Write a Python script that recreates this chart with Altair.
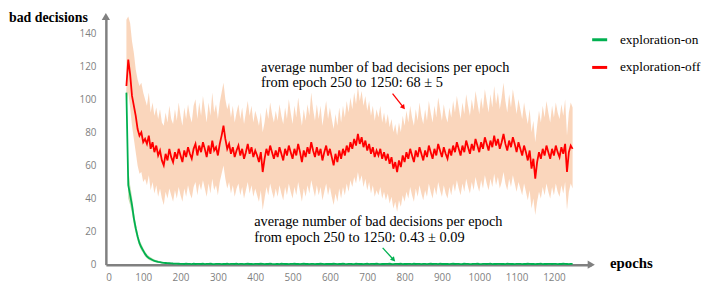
import altair as alt
import pandas as pd

# ---------------- data ----------------
epochs = list(range(55, 1251, 5))

off_mean = [
    108, 124, 115, 102, 96, 90, 82, 78, 80, 74,
    76, 73, 78, 70, 74, 68, 72, 66, 69, 63,
    60, 67, 63, 70, 65, 62, 68, 64, 70, 66,
    62, 69, 65, 71, 67, 64, 70, 73, 66, 72,
    68, 74, 70, 65, 72, 67, 75, 69, 71, 66,
    73, 78, 84, 76, 70, 73, 67, 71, 65, 69,
    72, 66, 70, 64, 68, 73, 67, 71, 65, 69,
    66, 62, 68, 56, 64, 70, 66, 72, 68, 64,
    69, 65, 71, 67, 63, 70, 66, 72, 68, 64,
    70, 66, 73, 68, 62, 69, 65, 71, 67, 74,
    69, 65, 71, 66, 70, 63, 68, 72, 66, 70,
    65, 60, 67, 62, 69, 64, 70, 66, 72, 68,
    74, 70, 76, 72, 79, 73, 77, 71, 75, 69,
    73, 67, 71, 65, 69, 66, 70, 64, 68, 63,
    67, 61, 65, 58, 62, 56, 63, 59, 66, 62,
    68, 64, 70, 66, 62, 69, 65, 71, 67, 63,
    69, 65, 72, 68, 64, 70, 66, 73, 69, 65,
    71, 67, 64, 70, 66, 72, 68, 74, 70, 66,
    72, 68, 75, 71, 67, 73, 69, 76, 72, 68,
    74, 70, 77, 73, 69, 75, 71, 78, 72, 76,
    70, 74, 79, 73, 69, 75, 71, 77, 73, 68,
    74, 70, 66, 72, 68, 63, 69, 58, 64, 52,
    62, 68, 64, 70, 66, 72, 68, 64, 70, 66,
    72, 68, 65, 71, 67, 73, 56, 68, 72, 70,
]

off_hi = [
    148, 150, 146, 135, 128, 118, 112, 108, 110, 104,
    100, 96, 104, 92, 98, 90, 95, 88, 94, 86,
    84, 92, 86, 96, 88, 85, 94, 87, 98, 90,
    84, 95, 88, 97, 90, 86, 96, 100, 88, 98,
    90, 102, 94, 86, 98, 90, 104, 92, 97, 88,
    98, 104, 110, 100, 94, 98, 89, 96, 86, 92,
    97, 88, 95, 85, 92, 99, 90, 96, 86, 93,
    89, 84, 92, 80, 86, 95, 88, 98, 91, 86,
    93, 87, 97, 90, 85, 95, 88, 100, 92, 85,
    96, 89, 101, 92, 84, 94, 87, 97, 90, 104,
    94, 87, 97, 88, 96, 84, 92, 99, 88, 95,
    88, 82, 91, 84, 95, 86, 96, 89, 99, 92,
    101, 94, 104, 97, 108, 99, 105, 96, 102, 93,
    99, 90, 96, 87, 94, 89, 96, 86, 92, 85,
    91, 83, 88, 80, 85, 78, 86, 80, 90, 84,
    93, 86, 96, 89, 84, 94, 87, 98, 90, 85,
    94, 87, 99, 92, 86, 96, 89, 101, 94, 87,
    97, 90, 86, 95, 89, 99, 92, 102, 95, 88,
    98, 91, 103, 96, 90, 100, 93, 105, 98, 91,
    101, 94, 106, 99, 92, 103, 95, 108, 97, 104,
    94, 101, 110, 99, 92, 103, 95, 106, 99, 91,
    100, 94, 88, 98, 91, 85, 94, 80, 87, 74,
    84, 93, 86, 96, 89, 99, 92, 86, 96, 89,
    98, 92, 88, 97, 90, 100, 78, 92, 98, 95,
]

off_lo = [
    96, 104, 95, 84, 76, 68, 60, 55, 56, 50,
    52, 48, 54, 45, 50, 43, 48, 41, 46, 40,
    36, 44, 40, 46, 42, 38, 45, 40, 47, 42,
    38, 46, 41, 48, 43, 40, 47, 50, 42, 49,
    45, 51, 46, 41, 49, 43, 52, 45, 48, 42,
    50, 55, 60, 52, 46, 50, 43, 48, 41, 46,
    49, 42, 47, 40, 45, 50, 43, 48, 41, 46,
    42, 38, 45, 33, 40, 47, 42, 49, 44, 40,
    46, 41, 48, 43, 39, 47, 42, 49, 44, 40,
    47, 42, 50, 44, 38, 46, 41, 48, 43, 51,
    46, 41, 48, 42, 47, 39, 44, 49, 42, 47,
    41, 36, 43, 38, 46, 40, 47, 42, 49, 44,
    51, 47, 53, 49, 56, 50, 54, 47, 52, 45,
    50, 43, 48, 41, 45, 42, 47, 40, 44, 39,
    43, 37, 41, 34, 38, 32, 39, 35, 42, 38,
    44, 40, 47, 42, 38, 46, 41, 48, 43, 39,
    45, 41, 49, 44, 40, 47, 42, 50, 45, 41,
    48, 43, 40, 47, 42, 49, 44, 51, 46, 42,
    49, 44, 52, 47, 43, 50, 45, 53, 48, 44,
    51, 46, 54, 49, 45, 52, 47, 55, 48, 53,
    46, 50, 56, 49, 45, 52, 47, 54, 49, 44,
    50, 46, 42, 49, 44, 39, 45, 34, 40, 30,
    38, 44, 40, 47, 42, 49, 44, 40, 47, 42,
    49, 44, 41, 48, 43, 50, 33, 44, 49, 46,
]

on_mean = [
    104, 48, 42, 36, 28, 22, 17, 13, 10.5, 8.5,
    6.5, 5, 4, 3.4, 2.8, 2.3, 2, 1.7, 1.5, 1.3,
    1.1, 1.0, 0.9, 0.85, 0.8, 0.7, 0.65, 0.6, 0.55, 0.5,
    0.5, 0.4, 0.6, 0.45, 0.5, 0.35, 0.55, 0.4, 0.5, 0.45,
    0.4, 0.55, 0.35, 0.5, 0.45, 0.6, 0.4, 0.35, 0.5, 0.45,
    0.45, 0.3, 0.5, 0.4, 0.55, 0.35, 0.45, 0.5, 0.4, 0.6,
    0.35, 0.45, 0.5, 0.3, 0.45, 0.55, 0.4, 0.5, 0.35, 0.45,
    0.5, 0.4, 0.55, 0.45, 0.35, 0.5, 0.4, 0.6, 0.45, 0.35,
    0.4, 0.5, 0.35, 0.55, 0.45, 0.4, 0.5, 0.3, 0.45, 0.5,
    0.55, 0.4, 0.45, 0.35, 0.5, 0.6, 0.4, 0.45, 0.35, 0.5,
    0.45, 0.35, 0.5, 0.4, 0.55, 0.45, 0.3, 0.5, 0.4, 0.45,
    0.4, 0.55, 0.45, 0.35, 0.5, 0.4, 0.6, 0.45, 0.35, 0.5,
    0.5, 0.4, 0.35, 0.55, 0.45, 0.4, 0.5, 0.35, 0.45, 0.55,
    0.35, 0.45, 0.5, 0.4, 0.6, 0.45, 0.35, 0.5, 0.4, 0.45,
    0.45, 0.55, 0.4, 0.35, 0.5, 0.45, 0.4, 0.55, 0.3, 0.45,
    0.4, 0.5, 0.45, 0.35, 0.55, 0.4, 0.5, 0.45, 0.35, 0.5,
    0.5, 0.35, 0.45, 0.55, 0.4, 0.45, 0.5, 0.35, 0.6, 0.4,
    0.45, 0.4, 0.5, 0.35, 0.45, 0.55, 0.4, 0.5, 0.45, 0.35,
    0.4, 0.55, 0.45, 0.5, 0.35, 0.4, 0.5, 0.45, 0.55, 0.4,
    0.35, 0.45, 0.5, 0.4, 0.45, 0.55, 0.35, 0.5, 0.4, 0.45,
    0.5, 0.4, 0.45, 0.35, 0.55, 0.45, 0.4, 0.5, 0.35, 0.45,
    0.45, 0.5, 0.35, 0.45, 0.4, 0.55, 0.45, 0.4, 0.5, 0.35,
    0.4, 0.45, 0.55, 0.35, 0.5, 0.4, 0.45, 0.5, 0.4, 0.45,
    0.5, 0.35, 0.45, 0.4, 0.55, 0.45, 0.4, 0.35, 0.5, 0.45,
]

on_hi = [108, 58, 48, 41, 32, 25, 19.5, 15, 12.5, 10,
         8, 6.3, 5.2, 4.4, 3.7, 3.1, 2.7, 2.3, 2, 1.8,
         1.6, 1.4, 1.3, 1.2, 1.1, 1.0, 1.0, 0.9, 0.9, 0.8]
on_lo = [100, 40, 36, 31, 24, 19, 14.5, 11, 8.5, 7,
         5, 3.8, 2.9, 2.3, 1.9, 1.6, 1.3, 1.1, 1.0, 0.8,
         0.7, 0.6, 0.5, 0.45, 0.4, 0.35, 0.3, 0.3, 0.25, 0.25]

series_names = ["exploration-on", "exploration-off"]
series_colors = ["#00b050", "#ff0000"]
x_ticks = [0, 100, 200, 300, 400, 500, 600, 700, 800, 900, 1000, 1100, 1200]
y_ticks = [0, 20, 40, 60, 80, 100, 120, 140]
x_max, y_max = 1300, 150

note_off = ["average number of bad decisions per epoch", "from epoch 250 to 1250: 68 \u00b1 5"]
note_on = ["average number of bad decisions per epoch", "from epoch 250 to 1250: 0.43 \u00b1 0.09"]

# ---------------- tables ----------------
lines_df = pd.DataFrame(
    {"epoch": epochs + epochs,
     "value": off_mean + on_mean,
     "series": ["exploration-off"] * len(epochs) + ["exploration-on"] * len(epochs)}
)
off_band_df = pd.DataFrame({"epoch": epochs, "lo": off_lo, "hi": off_hi})
on_band_df = pd.DataFrame({"epoch": epochs[:len(on_hi)], "lo": on_lo, "hi": on_hi})
arrow_df = pd.DataFrame({"x": [0, x_max], "y": [y_max, 0], "shape": ["triangle-up", "triangle-right"]})

W, H = 491, 251
GRAY = "#808080"
xs = alt.Scale(domain=[0, x_max], nice=False, zero=False)
ys = alt.Scale(domain=[0, y_max], nice=False)

x_axis = alt.Axis(values=x_ticks, format="d", title=None, grid=False, ticks=False,
                  domainColor=GRAY, domainWidth=2.5, labelColor="#7f7f7f",
                  labelFont="Open Sans", labelFontSize=10, labelPadding=8,
                  labelOverlap=False)
y_axis = alt.Axis(values=y_ticks, format="d", title=None, grid=False, ticks=False,
                  domainColor=GRAY, domainWidth=2.5, labelColor="#7f7f7f",
                  labelFont="Open Sans", labelFontSize=10, labelPadding=10,
                  labelOverlap=False)


def X(field):
    return alt.X(field, scale=xs, axis=x_axis)


def Y(field):
    return alt.Y(field, scale=ys, axis=y_axis)


off_band = alt.Chart(off_band_df).mark_area(color="#f8c8a6", opacity=0.75).encode(
    x=X("epoch:Q"), y=Y("lo:Q"), y2="hi:Q",
)
on_band = alt.Chart(on_band_df).mark_area(color="#a9d08e", opacity=0.7).encode(
    x=X("epoch:Q"), y=Y("lo:Q"), y2="hi:Q",
)
lines = alt.Chart(lines_df).mark_line(strokeWidth=1.8).encode(
    x=X("epoch:Q"), y=Y("value:Q"),
    color=alt.Color("series:N",
                    scale=alt.Scale(domain=series_names, range=series_colors),
                    legend=alt.Legend(title=None, orient="none", legendX=490, legendY=14,
                                      symbolType="stroke", symbolStrokeWidth=3,
                                      symbolSize=230, labelFont="Liberation Serif",
                                      labelFontSize=13.5, labelColor="black",
                                      rowPadding=12, labelOffset=11, labelLimit=200)),
    detail="series:N",
)
axis_arrows = alt.Chart(arrow_df).mark_point(filled=True, color=GRAY, opacity=1, size=70).encode(
    x=X("x:Q"), y=Y("y:Q"),
    shape=alt.Shape("shape:N", scale=None),
)


def text(t, x, y, align="left", bold=False, size=14.5):
    return alt.Chart(pd.DataFrame({"t": [t]})).mark_text(
        align=align, baseline="middle", font="Liberation Serif", fontSize=size,
        fontWeight="bold" if bold else "normal", color="black",
    ).encode(text="t:N", x=alt.value(x), y=alt.value(y))


def arrow(x1, y1, x2, y2, color, angle):
    one = pd.DataFrame({"a": [0]})
    r = alt.Chart(one).mark_rule(color=color, strokeWidth=1.3).encode(
        x=alt.value(x1), y=alt.value(y1), x2=alt.value(x2), y2=alt.value(y2))
    h = alt.Chart(one).mark_point(shape="triangle-up", angle=angle, filled=True, size=30,
                                  color=color, opacity=1).encode(x=alt.value(x2), y=alt.value(y2))
    return r + h


texts = [
    text("bad decisions", -98, 2, align="left", bold=True, size=14),
    text("epochs", 510, 249, bold=True, size=15),
    text(note_off[0], 157, 52),
    text(note_off[1], 157, 67),
    text(note_on[0], 150, 208),
    text(note_on[1], 150, 224),
]

chart = alt.layer(
    off_band, on_band, lines, axis_arrows, *texts,
    arrow(290, 78, 301, 92, "#ff0000", 141),
    arrow(280, 234, 291, 246, "#00b050", 137),
).properties(
    width=W, height=H,
    autosize=alt.AutoSizeParams(type="none"),
    padding={"left": 99, "top": 7, "right": 111, "bottom": 22},
).configure_view(stroke=None).configure_axis(labelOverlap=False)

chart.save("out.html", embed_options={"renderer": "svg", "actions": False})
